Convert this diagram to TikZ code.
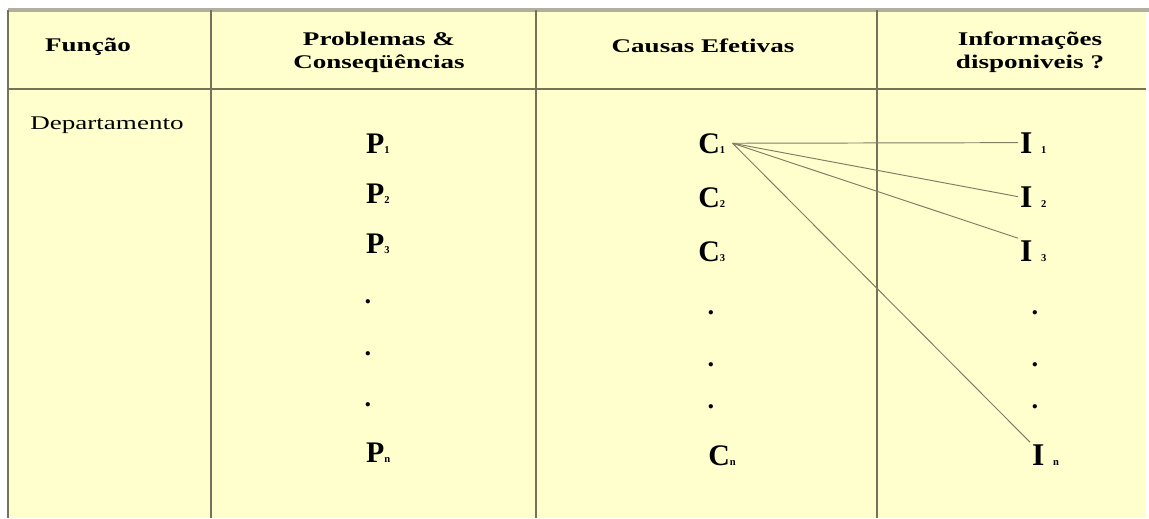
\documentclass[tikz,border=0pt]{standalone}
\usepackage{fontspec}
\usepackage{graphicx}
\usepackage{tikz}
\setmainfont{Liberation Serif}
\definecolor{tablefill}{RGB}{255, 255, 206}
\definecolor{gridline}{RGB}{118, 114, 90}
\definecolor{topline}{RGB}{178, 174, 160}
\definecolor{linkline}{RGB}{130, 124, 100}
\newcommand{\widen}[1]{\scalebox{1.4}[1]{#1}}
\newcommand{\subidx}[1]{{\fontsize{6}{6}\selectfont #1}}

\begin{document}
\begin{tikzpicture}[x=0.02cm, y=-0.02cm,
  headtxt/.style={font=\bfseries\fontsize{11}{13}\selectfont, align=center, inner sep=0pt},
  pitem/.style={font=\bfseries\fontsize{17}{17}\selectfont, anchor=base west, inner sep=1pt},
  citem/.style={font=\bfseries\fontsize{17}{17}\selectfont, anchor=base west, inner xsep=4pt, inner ysep=1pt},
  iitem/.style={font=\bfseries\fontsize{18}{18}\selectfont, anchor=base west, inner sep=1pt},
  dotitem/.style={font=\bfseries\fontsize{15}{15}\selectfont, anchor=base, inner sep=0pt},
  link/.style={linkline, line width=0.55pt}]
\useasboundingbox (0,0) rectangle (1149,518);

% Table background and rules
\fill[tablefill] (8,10) rectangle (1146,518);
\draw[topline, line width=1.8pt] (8,10) -- (1149,10);
\draw[gridline, line width=1.5pt] (8,10) -- (8,518);
\draw[gridline, line width=1.1pt] (211,10) -- (211,518);
\draw[gridline, line width=1.1pt] (536,10) -- (536,518);
\draw[gridline, line width=1.1pt] (877,10) -- (877,518);
\draw[gridline, line width=1.1pt] (8,89) -- (1146,89);

% Header row
\node[headtxt] (funcao) at (88,47) {\widen{Função}};
\node[headtxt] (problemas) at (379,52) {\widen{Problemas \&}\\\widen{Conseqüências}};
\node[headtxt] (causas) at (703,46) {\widen{Causas Efetivas}};
\node[headtxt] (informacoes) at (1030,52) {\widen{Informações}\\\widen{disponiveis ?}};

% First column
\node[font=\fontsize{11}{11}\selectfont, anchor=base west, inner sep=0pt] (depto) at (30,129) {\widen{Departamento}};

% Problems
\node[pitem] (p1) at (364,153) {P\subidx{1}};
\node[pitem] (p2) at (364,203) {P\subidx{2}};
\node[pitem] (p3) at (364,253) {P\subidx{3}};
\node[dotitem] (pd1) at (368,303) {.};
\node[dotitem] (pd2) at (368,355) {.};
\node[dotitem] (pd3) at (368,406) {.};
\node[pitem] (pn) at (364,462) {P\subidx{n}};

% Causes
\node[citem] (c1) at (691,153) {C\subidx{1}};
\node[citem] (c2) at (691,207) {C\subidx{2}};
\node[citem] (c3) at (691,261) {C\subidx{3}};
\node[dotitem] (cd1) at (711,314) {.};
\node[dotitem] (cd2) at (711,366) {.};
\node[dotitem] (cd3) at (711,408) {.};
\node[citem] (cn) at (701,465) {C\subidx{n}};

% Available information
\node[iitem] (i1) at (1018,153) {I\hspace{5pt}\subidx{1}};
\node[iitem] (i2) at (1018,207) {I\hspace{5pt}\subidx{2}};
\node[iitem] (i3) at (1018,261) {I\hspace{5pt}\subidx{3}};
\node[dotitem] (id1) at (1035,314) {.};
\node[dotitem] (id2) at (1035,366) {.};
\node[dotitem] (id3) at (1035,408) {.};
\node[iitem] (in) at (1030,465) {I\hspace{5pt}\subidx{n}};

% Links from the first cause
\draw[link] (c1.east) -- (i1.west);
\draw[link] (c1.east) -- (i2.west);
\draw[link] (c1.east) -- (i3.north west);
\draw[link] (c1.east) -- (in.north west);
\end{tikzpicture}
\end{document}
